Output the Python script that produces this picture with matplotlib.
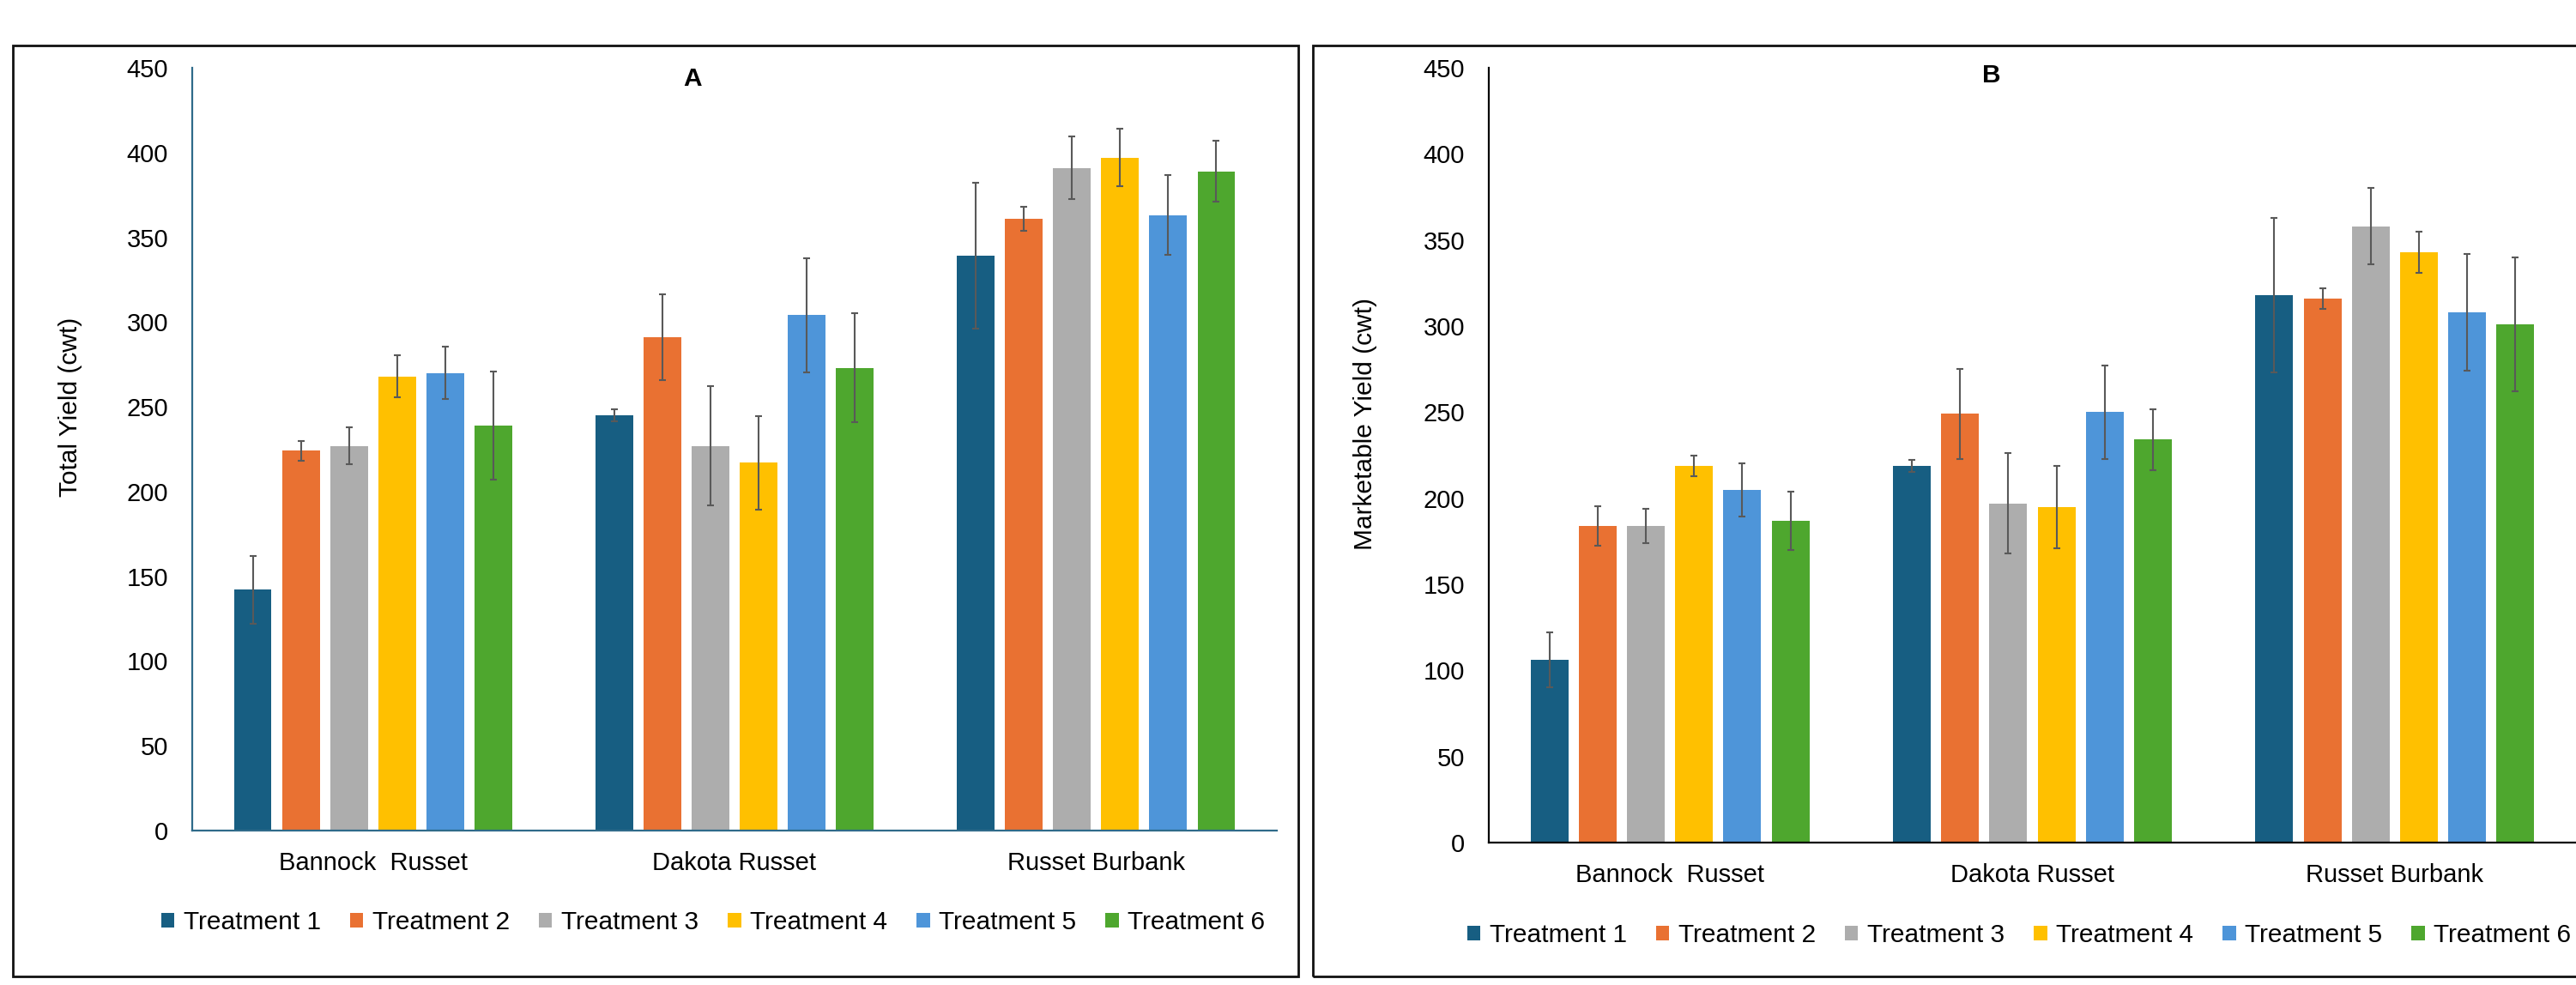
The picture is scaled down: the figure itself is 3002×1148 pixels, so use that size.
import matplotlib
matplotlib.use("Agg")
import matplotlib.pyplot as plt
from matplotlib.patches import Rectangle, Patch
import numpy as np

plt.rcParams['font.family'] = ['Liberation Sans', 'DejaVu Sans']

# ---- data ----
varieties = ["Bannock  Russet", "Dakota Russet", "Russet Burbank"]
treatments = ["Treatment 1", "Treatment 2", "Treatment 3",
              "Treatment 4", "Treatment 5", "Treatment 6"]

# Total yield (cwt): rows = treatments, columns = varieties
total_mean = [
    [142, 245, 339],
    [224, 291, 361],
    [227, 227, 391],
    [268, 217, 397],
    [270, 304, 363],
    [239, 273, 389],
]
total_err = [
    [20, 3.5, 43],
    [6, 25.5, 7],
    [11, 35, 18.5],
    [12.5, 27.5, 17],
    [15.5, 33.5, 23.5],
    [32, 32, 18],
]

# Marketable yield (cwt)
market_mean = [
    [106, 219, 318],
    [184, 249, 316],
    [184, 197, 358],
    [219, 195, 343],
    [205, 250, 308],
    [187, 234, 301],
]
market_err = [
    [16, 3.5, 45],
    [11.5, 26, 6],
    [10, 29, 22],
    [6, 24, 12],
    [15.5, 27, 34],
    [17, 17.5, 39],
]

colors = ["#175E82", "#E97132", "#ADADAD", "#FFC000", "#4E95D9", "#4EA72E"]

# ---- layout helpers (pixel -> figure fraction) ----
W, H = 3002, 1148
DPI = 100


def fx(px):
    return px / W


def fy(py):
    return 1 - py / H


fig = plt.figure(figsize=(W / DPI, H / DPI), dpi=DPI)
fig.patch.set_facecolor("white")

# panel frames
for (x0, x1) in [(15, 1513), (1530, 3040)]:
    fig.add_artist(Rectangle((fx(x0), fy(1138)), fx(x1) - fx(x0), fy(53) - fy(1138),
                             transform=fig.transFigure, fill=False,
                             edgecolor="#111111", linewidth=2.0))


def draw_panel(rect, means, errs, ylabel, ylabel_pos, letter, letter_pos,
               legend_pos, spine_color):
    ax = fig.add_axes(rect)
    x = np.arange(len(varieties))
    pitch = 0.133
    width = 0.104
    handles = []
    for i, (m, e) in enumerate(zip(means, errs)):
        pos = x + (i - (len(treatments) - 1) / 2) * pitch
        ax.bar(pos, m, width=width, color=colors[i], zorder=2)
        ax.errorbar(pos, m, yerr=e, fmt="none", ecolor="#595959",
                    elinewidth=1.5, capsize=3, capthick=1.5, zorder=3)
        handles.append(Patch(facecolor=colors[i], edgecolor="none"))
    ax.set_xlim(-0.5, 2.5)
    ax.set_ylim(0, 450)
    ax.set_yticks(np.arange(0, 451, 50))
    ax.set_xticks(x)
    ax.set_xticklabels(varieties, fontsize=21)
    ax.tick_params(axis="y", length=0, pad=20, labelsize=21)
    ax.tick_params(axis="x", length=0, pad=17)
    for s in ["top", "right"]:
        ax.spines[s].set_visible(False)
    for s in ["left", "bottom"]:
        ax.spines[s].set_color(spine_color)
        ax.spines[s].set_linewidth(1.6)

    fig.text(fx(ylabel_pos[0]), fy(ylabel_pos[1]), ylabel, rotation=90,
             ha="center", va="center", fontsize=21.5)
    fig.text(fx(letter_pos[0]), fy(letter_pos[1]), letter, ha="center",
             va="center", fontsize=21.5, fontweight="bold")
    ax.legend(handles, treatments, loc="center",
              bbox_to_anchor=(fx(legend_pos[0]), fy(legend_pos[1])),
              bbox_transform=fig.transFigure, ncol=6, frameon=False,
              fontsize=21.5, handlelength=0.52, handleheight=0.53,
              handletextpad=0.35, columnspacing=1.14, borderpad=0)
    return ax


draw_panel([fx(224), fy(968), (1488 - 224) / W, (968 - 79) / H],
           total_mean, total_err, "Total Yield (cwt)", (82, 474),
           "A", (807, 92), (831, 1075), "#2F6B8A")

draw_panel([fx(1735), fy(982), 1267 / W, (982 - 79) / H],
           market_mean, market_err, "Marketable Yield (cwt)", (1591, 494),
           "B", (2321, 88), (2353, 1090), "#000000")

fig.savefig("out.png", dpi=DPI, facecolor="white")
